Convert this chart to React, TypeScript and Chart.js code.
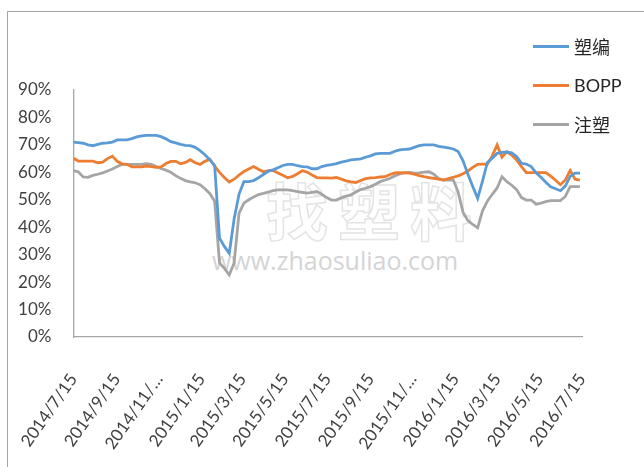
import React, { useEffect, useRef } from 'react';
import { Chart, registerables } from 'chart.js';

Chart.register(...registerables);

// ---- data ----
const startDate = '2014-07-15';
const weekCount = 105; // weekly observations from 2014/7/15
const tickDates = ['2014-07-15', '2014-09-15', '2014-11-15', '2015-01-15', '2015-03-15', '2015-05-15', '2015-07-15', '2015-09-15', '2015-11-15', '2016-01-15', '2016-03-15', '2016-05-15', '2016-07-15'];
const tickLabels = ['2014/7/15', '2014/9/15', '2014/11/…', '2015/1/15', '2015/3/15', '2015/5/15', '2015/7/15', '2015/9/15', '2015/11/…', '2016/1/15', '2016/3/15', '2016/5/15', '2016/7/15'];
const seriesNames = ['塑编', 'BOPP', '注塑'];

const suBian = [
  71, 70.8, 70.6, 70, 69.7, 70.2, 70.6, 70.7, 71, 71.8,
  71.8, 71.8, 72.3, 72.9, 73.3, 73.5, 73.5, 73.5, 73, 72.2,
  71.2, 70.7, 70.2, 69.8, 69.7, 69.1, 67.9, 66.4, 64.6, 62.5,
  36, 33, 30.5, 43, 52, 56.6, 56.6, 57, 58, 59.2,
  60.4, 60.9, 61.7, 62.5, 62.9, 62.9, 62.4, 62.1, 62, 61.3,
  61.3, 62.1, 62.5, 62.8, 63.2, 63.7, 64.1, 64.5, 64.7, 64.9,
  65.5, 66, 66.7, 66.9, 66.9, 66.9, 67.7, 68.2, 68.4, 68.5,
  69.1, 69.7, 70, 70, 70, 69.5, 69.2, 68.9, 68.5, 67.6,
  64.2, 59.3, 54.8, 50.5, 56.8, 63.6, 65.1, 66.9, 67.3, 67.4,
  67.1, 65.8, 63.3, 63, 62.1, 59.8, 58.2, 56.4, 54.7, 54,
  53.3, 55, 58.5, 59.7, 59.7,
];

const bopp = [
  65.1, 64.1, 64.1, 64.1, 64.1, 63.5, 63.7, 65, 65.9, 64,
  63.1, 62.9, 62, 62, 62, 62.3, 62.1, 61.8, 62, 63.2,
  64, 64, 63.1, 63.6, 64.6, 63.5, 62.9, 64, 64.8, 62.3,
  60, 58.1, 56.5, 57.5, 59, 60.3, 61.2, 62.1, 61.1, 60.2,
  60.6, 60.7, 59.8, 58.9, 58, 58.5, 59.5, 60.6, 60.1, 59,
  58.1, 58, 58, 57.9, 58.1, 57.5, 56.9, 56.5, 56.3, 57,
  57.7, 58, 58.1, 58.3, 58.4, 59.2, 59.8, 59.9, 59.8, 59.7,
  59.3, 58.8, 58.4, 58.1, 57.8, 57.5, 57.2, 57.7, 58.2, 58.7,
  59.5, 60.5, 61.8, 62.9, 63, 63, 66, 70, 65.5, 67.5,
  66.3, 64.5, 62.1, 59.9, 59.9, 59.9, 59.9, 59.9, 58.6, 57.1,
  55.5, 57.2, 60.7, 57.5, 57.2,
];

const zhuSu = [
  60.6, 60.2, 58.3, 58.2, 58.9, 59.3, 59.8, 60.5, 61.2, 62.1,
  62.9, 62.9, 62.9, 62.9, 62.9, 63.2, 62.9, 62.1, 61.4, 60.8,
  60, 58.8, 57.8, 57, 56.5, 56.2, 55.5, 54, 52.3, 49.5,
  27, 25, 22.6, 27, 45, 48.8, 50, 51, 51.9, 52.3,
  52.8, 53.3, 53.6, 53.6, 53.6, 53.3, 53, 52.7, 52.4, 52.7,
  53, 52, 50.8, 49.9, 49.9, 50.7, 51.3, 51.8, 52.8, 53.7,
  54.2, 54.8, 55.7, 56.6, 57.2, 57.8, 58.7, 59.4, 59.9, 60,
  59.7, 59.8, 60.1, 60.2, 59.3, 57.7, 57.2, 57.2, 57.2, 52.8,
  45.5, 42.4, 41, 39.8, 46, 49.5, 52, 54.3, 58.4, 56.6,
  55.3, 53.7, 50.8, 49.9, 49.9, 48.4, 48.8, 49.3, 49.7, 49.7,
  49.7, 51.2, 54.8, 54.8, 54.8,
];

const seriesColors = ['#5B9BD5', '#ED7D31', '#A5A5A5'];

// ---- helpers ----
const dayOf = (s: string) => {
  const [y, m, d] = s.split('-').map(Number);
  const [y0, m0, d0] = startDate.split('-').map(Number);
  return Math.round((Date.UTC(y, m - 1, d) - Date.UTC(y0, m0 - 1, d0)) / 86400000);
};
const weekDays = Array.from({ length: weekCount }, (_, i) => i * 7);
const tickDays = tickDates.map(dayOf);

const FONT = '"Lato", "Noto Sans CJK SC", sans-serif';

export default function App() {
  const canvasRef = useRef<HTMLCanvasElement | null>(null);

  useEffect(() => {
    const canvas = canvasRef.current;
    if (!canvas) return;
    const all = [suBian, bopp, zhuSu];
    const chart = new Chart(canvas, {
      type: 'line',
      data: {
        datasets: all.map((vals, si) => ({
          label: seriesNames[si],
          data: vals.map((v, i) => ({ x: weekDays[i], y: v })),
          borderColor: seriesColors[si],
          backgroundColor: seriesColors[si],
          borderWidth: 2.8,
          pointRadius: 0,
          tension: 0,
          fill: false,
        })),
      },
      options: {
        animation: false,
        responsive: false,
        devicePixelRatio: 1,
        layout: { padding: { left: 0, right: 62, top: 90, bottom: 0 } },
        plugins: { legend: { display: false }, tooltip: { enabled: false } },
        scales: {
          x: {
            type: 'linear',
            min: tickDays[0],
            max: tickDays[tickDays.length - 1],
            afterBuildTicks: (scale: any) => {
              scale.ticks = tickDays.map((v) => ({ value: v }));
            },
            afterFit: (scale: any) => {
              scale.height = 130;
            },
            grid: { display: false },
            border: { display: true, color: '#a6a6a6', width: 1.3 },
            ticks: {
              autoSkip: false,
              minRotation: 55,
              maxRotation: 55,
              padding: 25,
              color: '#404040',
              font: { family: FONT, size: 17 },
              callback: (v: any) => {
                const idx = tickDays.indexOf(Number(v));
                return idx >= 0 ? tickLabels[idx] : '';
              },
            },
          },
          y: {
            min: 0,
            max: 90,
            afterFit: (scale: any) => {
              scale.width = 73;
            },
            grid: { display: false },
            border: { display: true, color: '#a6a6a6', width: 1.3 },
            ticks: {
              stepSize: 10,
              padding: 14,
              color: '#404040',
              font: { family: FONT, size: 17 },
              callback: (v: any) => `${v}%`,
            },
          },
        },
      },
    } as any);
    return () => chart.destroy();
  }, []);

  return (
    <div style={{ position: 'fixed', left: 0, top: 0, width: 644, height: 467, background: '#fff', overflow: 'hidden' }}>
      <div style={{ position: 'absolute', left: 7, top: 11, width: 700, height: 500, border: '1px solid #a6a6a6', boxSizing: 'border-box' }} />
      <div style={{ position: 'absolute', left: 266, top: 178, fontFamily: '"Noto Sans CJK SC", sans-serif', fontSize: 62, fontWeight: 700, color: 'transparent', WebkitTextStroke: '1.5px #e4e4e4', letterSpacing: 10, lineHeight: 1 } as any}>找塑料</div>
      <div style={{ position: 'absolute', left: 212, top: 244, fontFamily: '"Open Sans", sans-serif', fontSize: 25, color: '#d4d4d4', lineHeight: 1.3, whiteSpace: 'nowrap' }}>www.zhaosuliao.com</div>
      <canvas ref={canvasRef} width={644} height={467} style={{ position: 'absolute', left: 0, top: 0, width: 644, height: 467 }} />
      {seriesNames.map((name, i) => (
        <div key={name} style={{ position: 'absolute', left: 533, top: 46 + i * 39 - 13, height: 26, display: 'flex', alignItems: 'center', whiteSpace: 'nowrap' }}>
          <span style={{ display: 'inline-block', width: 36, height: 3, background: seriesColors[i] }} />
          <span style={{ marginLeft: 5, fontFamily: FONT, fontSize: 18, color: '#262626' }}>{name}</span>
        </div>
      ))}
    </div>
  );
}
